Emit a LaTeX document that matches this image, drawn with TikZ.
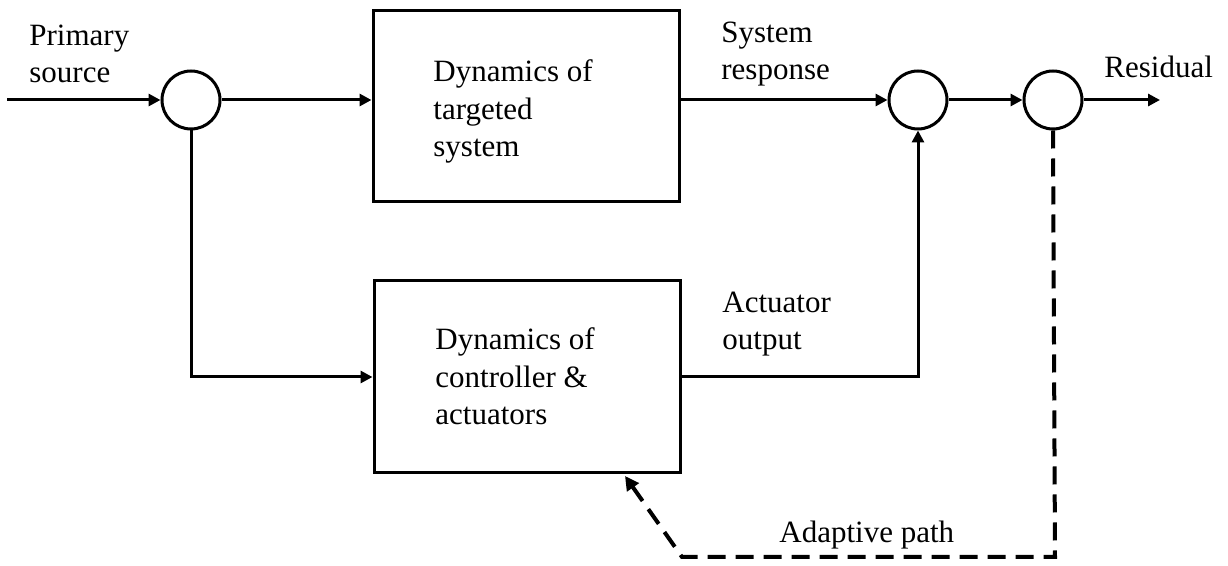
\documentclass[tikz,border=0pt]{standalone}
\usepackage{fontspec}
\setmainfont{Liberation Serif}
\usetikzlibrary{arrows.meta}
\begin{document}
\begin{tikzpicture}[x=0.5pt,y=-0.5pt,
  every node/.style={font=\fontsize{15.5}{18.75}\selectfont},
  blockbox/.style={draw,line width=1.5pt,minimum width=153pt,inner sep=0pt},
  sumnode/.style={draw,circle,line width=1.5pt,minimum size=29pt,inner sep=0pt},
  lbl/.style={anchor=base west,align=left,inner sep=0pt},
  conn/.style={line width=1.5pt,-{Triangle[length=6pt,width=6pt]}},
  adapt/.style={line width=2pt,dash pattern=on 9pt off 5pt,-{Triangle[length=7pt,width=7pt]}}]
\useasboundingbox (0,0) rectangle (1228,566);
% blocks
\node[blockbox,minimum height=95.5pt] (top) at (526,106.5) {};
\node[blockbox,minimum height=96pt] (bot) at (527,377) {};
\node[lbl] (toptxt) at (433,157) {Dynamics of\\targeted\\system};
\node[lbl] (bottxt) at (435,425) {Dynamics of\\controller \&\\actuators};
% summing junctions
\node[sumnode] (c1) at (191,100) {};
\node[sumnode] (c2) at (918,100) {};
\node[sumnode] (c3) at (1053,100) {};
% labels
\node[lbl] (lprim) at (29,83) {Primary\\source};
\node[lbl] (lsys) at (721,80) {System\\response};
\node[lbl] (lact) at (722,350) {Actuator\\output};
\node[lbl] (lres) at (1104,78) {Residual};
\node[lbl] (ladp) at (779,543) {Adaptive path};
% free ends
\coordinate (in) at (7,100);
\coordinate (out) at (1160,100);
\coordinate (dcorner) at (1055,557);
\coordinate (dleft) at (682,557);
\coordinate (dtip) at (625,476);
% connectors
\draw[conn] (in) -- (c1);
\draw[conn] (c1) -- (c1 -| top.west);
\draw[conn] (top.east |- c2) -- (c2);
\draw[conn] (c2) -- (c3);
\draw[conn] (c3) -- (out);
\draw[conn] (c1.south) |- (bot.west);
\draw[conn] (bot.east) -| (c2.south);
\draw[adapt] (c3.south) -- (dcorner) -- (dleft) -- (dtip);
\end{tikzpicture}
\end{document}
